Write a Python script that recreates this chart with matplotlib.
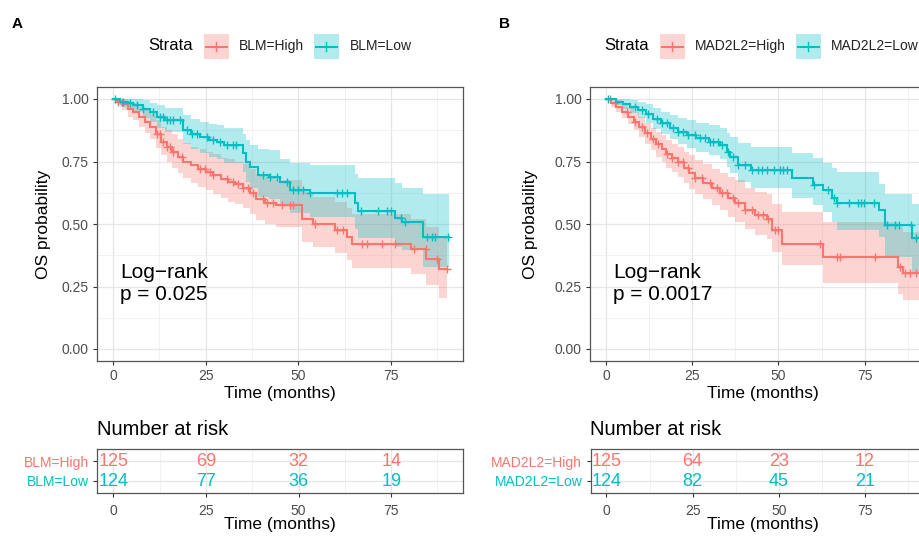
import numpy as np
import matplotlib
matplotlib.use('Agg')
import matplotlib.pyplot as plt
from matplotlib.patches import Rectangle
from matplotlib.lines import Line2D

plt.rcParams['font.family'] = ['Liberation Sans', 'DejaVu Sans']

# ---------------- data ----------------
RED = '#F8766D'
TEAL = '#00BFC4'

# Panel A : BLM
A_high_t = [0, 1, 2.5, 4, 5.5, 7, 8.5, 10, 11.5, 13, 14.5, 16, 17.5, 19, 21, 23, 25, 27, 29, 31, 33, 35, 37, 38.5, 41, 44, 51, 54, 60, 63, 64.5, 80.5, 84.5, 88]
A_high_s = [1.0, 0.99, 0.98, 0.96, 0.95, 0.93, 0.91, 0.89, 0.86, 0.83, 0.81, 0.79, 0.77, 0.75, 0.735, 0.72, 0.71, 0.695, 0.68, 0.67, 0.66, 0.645, 0.625, 0.60, 0.585, 0.575, 0.52, 0.50, 0.476, 0.45, 0.42, 0.40, 0.36, 0.32]
A_high_lo = [1.0, 0.975, 0.955, 0.93, 0.915, 0.89, 0.865, 0.84, 0.805, 0.775, 0.75, 0.725, 0.705, 0.685, 0.665, 0.65, 0.635, 0.62, 0.605, 0.59, 0.58, 0.565, 0.54, 0.515, 0.50, 0.49, 0.43, 0.41, 0.385, 0.355, 0.325, 0.30, 0.255, 0.205]
A_high_hi = [1.0, 1.0, 1.0, 0.99, 0.985, 0.97, 0.955, 0.94, 0.915, 0.89, 0.875, 0.86, 0.84, 0.825, 0.81, 0.80, 0.79, 0.78, 0.765, 0.76, 0.75, 0.74, 0.72, 0.70, 0.685, 0.675, 0.63, 0.61, 0.59, 0.565, 0.54, 0.52, 0.49, 0.45]
A_high_cens = [1.4, 2.3, 11.8, 12.7, 13.6, 14.5, 15.4, 16.2, 18.5, 23.5, 24.8, 26.2, 27.1, 30.7, 32.4, 33.8, 35.1, 36.5, 37.8, 40.5, 41.4, 43.2, 45.5, 47.7, 48.6, 54.5, 60.5, 62, 67.1, 68.4, 72.6, 76, 81.1, 84.3, 87.5, 90]
A_high_end = 90

A_low_t = [0, 2, 4, 5.5, 8, 10, 12, 14, 19, 21, 23.5, 26, 28, 30, 35, 36, 37, 39, 42, 45, 47.7, 53, 65.3, 66, 76, 78, 83.6]
A_low_s = [1.0, 0.99, 0.984, 0.976, 0.96, 0.948, 0.93, 0.916, 0.876, 0.86, 0.848, 0.835, 0.828, 0.816, 0.784, 0.75, 0.728, 0.696, 0.69, 0.668, 0.636, 0.624, 0.584, 0.552, 0.524, 0.508, 0.448]
A_low_lo = [1.0, 0.97, 0.96, 0.95, 0.925, 0.91, 0.885, 0.87, 0.82, 0.80, 0.785, 0.77, 0.76, 0.745, 0.71, 0.67, 0.645, 0.61, 0.60, 0.58, 0.545, 0.53, 0.48, 0.445, 0.41, 0.395, 0.33]
A_low_hi = [1.0, 1.0, 1.0, 1.0, 0.995, 0.985, 0.975, 0.965, 0.935, 0.92, 0.91, 0.90, 0.895, 0.885, 0.86, 0.835, 0.815, 0.80, 0.795, 0.76, 0.745, 0.735, 0.70, 0.685, 0.665, 0.645, 0.62]
A_low_cens = [0.5, 2.8, 4.6, 6.4, 8.2, 10.9, 12.7, 13.6, 14.5, 15.4, 16.2, 18.0, 19.9, 21.2, 22.6, 25.3, 27.1, 28.9, 30.7, 32.4, 33.3, 40.5, 42.3, 44.1, 46.8, 48.6, 50, 51.3, 53.1, 60.3, 61.7, 63, 67, 71.5, 73.8, 75.1, 77.8, 78.7, 84.6, 85.9, 86.8, 90.4]
A_low_end = 90.5

# Panel B : MAD2L2
B_high_t = [0, 1.5, 3, 4.5, 6.5, 8, 9.5, 11.3, 13, 14.5, 16.1, 17.5, 19, 20.9, 22.5, 24, 25.8, 28, 30.6, 33, 35.4, 37.5, 40.3, 43.2, 46.6, 48, 50.9, 63, 84.5, 86]
B_high_s = [1.0, 0.985, 0.97, 0.95, 0.93, 0.91, 0.89, 0.863, 0.84, 0.82, 0.80, 0.78, 0.765, 0.749, 0.725, 0.705, 0.683, 0.665, 0.643, 0.625, 0.603, 0.585, 0.556, 0.536, 0.52, 0.476, 0.42, 0.37, 0.33, 0.303]
B_high_lo = [1.0, 0.97, 0.95, 0.925, 0.90, 0.875, 0.85, 0.82, 0.795, 0.77, 0.75, 0.725, 0.71, 0.69, 0.665, 0.64, 0.62, 0.60, 0.575, 0.555, 0.53, 0.51, 0.48, 0.455, 0.44, 0.39, 0.335, 0.263, 0.22, 0.196]
B_high_hi = [1.0, 1.0, 0.995, 0.98, 0.965, 0.95, 0.93, 0.905, 0.885, 0.87, 0.855, 0.835, 0.82, 0.81, 0.79, 0.775, 0.755, 0.74, 0.72, 0.705, 0.69, 0.675, 0.645, 0.63, 0.62, 0.58, 0.55, 0.509, 0.49, 0.47]
B_high_cens = [1.2, 2.6, 6.0, 8.4, 10.3, 11.8, 13.7, 15.2, 17.6, 19.0, 21.0, 22.4, 23.9, 25.8, 27.7, 30.1, 32.1, 33.5, 35.0, 36.9, 38.4, 40.3, 42.2, 44.2, 45.6, 47.1, 49.0, 50, 62, 66.9, 67.8, 77.9, 85.1, 86.6, 88, 90]
B_high_end = 91

B_low_t = [0, 3, 5, 7, 9.4, 11.5, 13.5, 16, 18.5, 21, 23.5, 26, 30, 33, 35, 36, 38.4, 42, 53.8, 60, 63, 65.4, 67, 79, 81, 88.6]
B_low_s = [1.0, 0.99, 0.98, 0.97, 0.956, 0.94, 0.92, 0.903, 0.885, 0.869, 0.855, 0.843, 0.829, 0.816, 0.79, 0.769, 0.736, 0.716, 0.683, 0.656, 0.636, 0.603, 0.583, 0.556, 0.496, 0.443]
B_low_lo = [1.0, 0.975, 0.96, 0.945, 0.925, 0.905, 0.88, 0.86, 0.84, 0.82, 0.805, 0.79, 0.775, 0.76, 0.73, 0.705, 0.67, 0.645, 0.605, 0.575, 0.55, 0.51, 0.476, 0.45, 0.37, 0.31]
B_low_hi = [1.0, 1.0, 1.0, 0.995, 0.99, 0.98, 0.965, 0.95, 0.935, 0.925, 0.915, 0.905, 0.895, 0.885, 0.865, 0.85, 0.825, 0.81, 0.785, 0.765, 0.745, 0.725, 0.71, 0.66, 0.62, 0.58]
B_low_cens = [0.7, 8.4, 10.3, 12.3, 14.7, 16.1, 17.6, 19.5, 21.0, 22.4, 23.9, 25.8, 27.2, 28.7, 30.1, 31.1, 32.6, 33.5, 35.4, 36.9, 38.4, 40.3, 42.2, 44.2, 45.1, 46.7, 48.7, 50.4, 51.2, 52.6, 60.4, 64.3, 66.2, 67.1, 70.5, 72.9, 73.8, 74.8, 77.7, 81.5, 83.9, 84.9, 88.3, 90]
B_low_end = 91.5

risk_times = [0, 25, 50, 75]
A_risk_high = [125, 69, 32, 14]
A_risk_low = [124, 77, 36, 19]
B_risk_high = [125, 64, 23, 12]
B_risk_low = [124, 82, 45, 21]

A_labels = ['BLM=High', 'BLM=Low']
B_labels = ['MAD2L2=High', 'MAD2L2=Low']
A_p = 'p = 0.025'
B_p = 'p = 0.0017'

# ---------------- layout helpers ----------------
W, H = 920, 536
fig = plt.figure(figsize=(W / 100, H / 100), dpi=100)


def fx(px):
    return px / W


def fy(py):
    return 1 - py / H


def add_ax(l, r, t, b):
    return fig.add_axes([fx(l), fy(b), (r - l) / W, (b - t) / H])


TICKC = '#4D4D4D'


def style(ax):
    ax.set_xticks([0, 25, 50, 75])
    ax.set_xticks([12.5, 37.5, 62.5, 87.5], minor=True)
    ax.grid(which='major', color='#E6E6E6', lw=0.9)
    ax.grid(which='minor', color='#F0F0F0', lw=0.6)
    ax.set_axisbelow(True)
    for sp in ax.spines.values():
        sp.set_color('#555555')
        sp.set_linewidth(0.9)
    ax.tick_params(which='major', length=3, width=0.8, color='#333333',
                   labelcolor=TICKC, labelsize=10, pad=3)
    ax.tick_params(which='minor', length=0)


def km_band(ax, t, lo, hi, end, color):
    tt = np.append(t, end)
    ll = np.append(lo, lo[-1])
    hh = np.append(hi, hi[-1])
    ax.fill_between(tt, ll, hh, step='post', color=color, alpha=0.3, lw=0)


def km_line(ax, t, s, cens, end, color):
    tt = np.append(t, end)
    ss = np.append(s, s[-1])
    ax.step(tt, ss, where='post', color=color, lw=1.5, solid_joinstyle='miter')
    c = np.asarray(cens)
    idx = np.searchsorted(np.asarray(t), c, side='right') - 1
    ax.plot(c, np.asarray(s)[idx], ls='none', marker='+', ms=6, mew=1.0, color=color)


def panel(left, right, x0px, scale, letter, letter_x, labels, p_text,
          high, low, risk_high, risk_low, legend_px, ylab_x):
    # main axes
    xlim = ((left - x0px) / scale, (right - x0px) / scale)
    ax = add_ax(left, right, 87, 361)
    style(ax)
    ax.set_yticks([0, 0.25, 0.5, 0.75, 1.0])
    ax.set_yticklabels(['0.00', '0.25', '0.50', '0.75', '1.00'])
    ax.set_yticks([0.125, 0.375, 0.625, 0.875], minor=True)
    km_band(ax, high[0], high[2], high[3], high[5], RED)
    km_band(ax, low[0], low[2], low[3], low[5], TEAL)
    km_line(ax, high[0], high[1], high[4], high[5], RED)
    km_line(ax, low[0], low[1], low[4], low[5], TEAL)
    ax.set_xlim(xlim)
    ax.set_ylim(-0.048, 1.048)
    ax.text(2, 0.345, 'Log\u2212rank\n' + p_text, fontsize=15, ha='left', va='top',
            linespacing=1.2, color='black')
    cx = (left + right) / 2
    fig.text(fx(cx), fy(398), 'Time (months)', fontsize=12.5, ha='center', va='baseline')
    fig.text(fx(ylab_x), fy(224), 'OS probability', fontsize=12.5, ha='center',
             va='center', rotation=90)
    fig.text(fx(letter_x), fy(28), letter, fontsize=11, fontweight='bold',
             ha='left', va='baseline')

    # legend
    sx, k1, l1, k2, l2 = legend_px
    fig.text(fx(sx), fy(46), 'Strata', fontsize=12, ha='left', va='center')
    for kx, lx, col, lab in [(k1, l1, RED, labels[0]), (k2, l2, TEAL, labels[1])]:
        fig.add_artist(Rectangle((fx(kx), fy(59)), 25 / W, 25 / H,
                                 transform=fig.transFigure, facecolor=col,
                                 alpha=0.3, edgecolor='none'))
        fig.add_artist(Line2D([fx(kx + 2), fx(kx + 23)], [fy(46.5), fy(46.5)],
                              transform=fig.transFigure, color=col, lw=1.5))
        fig.add_artist(Line2D([fx(kx + 12.5), fx(kx + 12.5)], [fy(42), fy(51)],
                              transform=fig.transFigure, color=col, lw=1.0))
        fig.text(fx(lx), fy(46), lab, fontsize=10, ha='left', va='center', color='#222222')

    # risk table
    rt = add_ax(left + 0.5, right, 449, 493)
    style(rt)
    rt.set_yticks([1, 2])
    rt.set_yticklabels([labels[1], labels[0]])
    for lbl, col in zip(rt.get_yticklabels(), [TEAL, RED]):
        lbl.set_color(col)
    rt.tick_params(axis='x', pad=5)
    for t, nh, nl in zip(risk_times, risk_high, risk_low):
        rt.text(t, 2, str(nh), color=RED, fontsize=13, ha='center', va='center')
        rt.text(t, 1, str(nl), color=TEAL, fontsize=13, ha='center', va='center')
    rt.set_xlim(xlim)
    rt.set_ylim(0.4, 2.6)
    fig.text(fx(left), fy(435), 'Number at risk', fontsize=14.5, ha='left', va='baseline')
    fig.text(fx(cx), fy(529), 'Time (months)', fontsize=12.5, ha='center', va='baseline')
    return ax


A_high = (A_high_t, A_high_s, A_high_lo, A_high_hi, A_high_cens, A_high_end)
A_low = (A_low_t, A_low_s, A_low_lo, A_low_hi, A_low_cens, A_low_end)
B_high = (B_high_t, B_high_s, B_high_lo, B_high_hi, B_high_cens, B_high_end)
B_low = (B_low_t, B_low_s, B_low_lo, B_low_hi, B_low_cens, B_low_end)

panel(97, 463, 113, 3.708, 'A', 12, A_labels, A_p, A_high, A_low,
      A_risk_high, A_risk_low, (148, 204, 239, 314, 350), 44)
panel(590, 935, 606, 3.45, 'B', 499, B_labels, B_p, B_high, B_low,
      B_risk_high, B_risk_low, (604, 660, 695, 796, 831), 531)

fig.savefig('out.png', dpi=100)
